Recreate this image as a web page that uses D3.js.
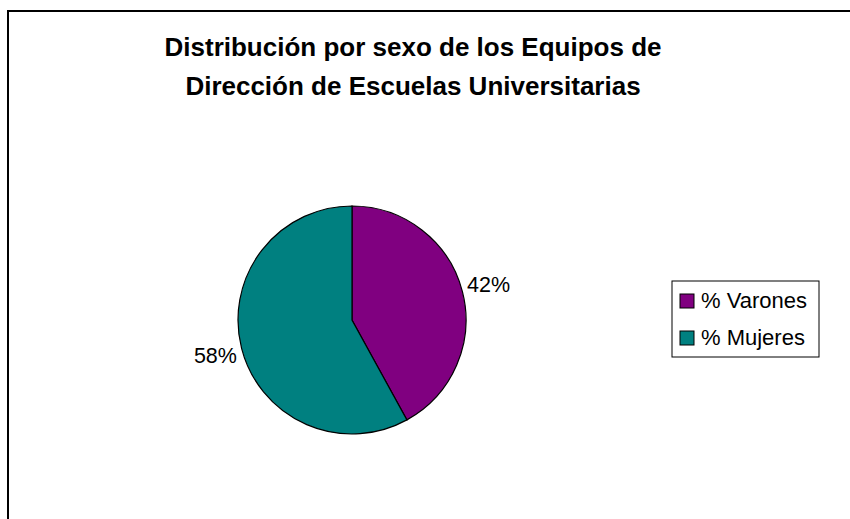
<!DOCTYPE html>
<html><head><meta charset="utf-8">
<script src="https://cdn.jsdelivr.net/npm/d3@7"></script>
<style>body{margin:0;background:#fff}svg{display:block}</style>
</head><body>
<svg id="c" width="850" height="519"></svg>
<script>
const categories = ["% Varones", "% Mujeres"];
const values = [42, 58];
const colors = ["#800080", "#008080"];
const titleLines = ["Distribución por sexo de los Equipos de", "Dirección de Escuelas Universitarias"];

const svg = d3.select("#c");
const font = "'Liberation Sans', Arial, sans-serif";

svg.append("rect").attr("x", 8).attr("y", 11).attr("width", 900).attr("height", 600)
  .attr("fill", "#fff").attr("stroke", "#000").attr("stroke-width", 2);

svg.append("g").selectAll("text").data(titleLines).join("text")
  .attr("x", 413).attr("y", (d, i) => 56 + i * 39)
  .attr("text-anchor", "middle").attr("font-family", font)
  .attr("font-weight", "bold").attr("font-size", 26).text(d => d);

const cx = 352, cy = 320, r = 114;
const pie = d3.pie().sort(null).value(d => d)(values);
const arc = d3.arc().innerRadius(0).outerRadius(r);
const g = svg.append("g").attr("transform", `translate(${cx},${cy})`);
g.selectAll("path").data(pie).join("path")
  .attr("d", arc).attr("fill", (d, i) => colors[i])
  .attr("stroke", "#000").attr("stroke-width", 1.2);

const total = d3.sum(values);
const labelArc = d3.arc().innerRadius(r + 27).outerRadius(r + 27);
g.selectAll("text").data(pie).join("text")
  .attr("transform", d => `translate(${labelArc.centroid(d)})`)
  .attr("text-anchor", "middle").attr("dy", "0.35em")
  .attr("font-family", font).attr("font-size", 21.5)
  .text(d => Math.round(d.data / total * 100) + "%");

const lg = svg.append("g");
lg.append("rect").attr("x", 672).attr("y", 281).attr("width", 147).attr("height", 76)
  .attr("fill", "#fff").attr("stroke", "#000").attr("stroke-width", 1);
const items = lg.selectAll("g").data(categories).join("g")
  .attr("transform", (d, i) => `translate(680, ${294 + i * 37})`);
items.append("rect").attr("width", 14).attr("height", 14)
  .attr("fill", (d, i) => colors[i]).attr("stroke", "#000").attr("stroke-width", 1);
items.append("text").attr("x", 21).attr("y", 13.5).attr("font-family", font)
  .attr("font-size", 22).text(d => d);
</script>
</body></html>
